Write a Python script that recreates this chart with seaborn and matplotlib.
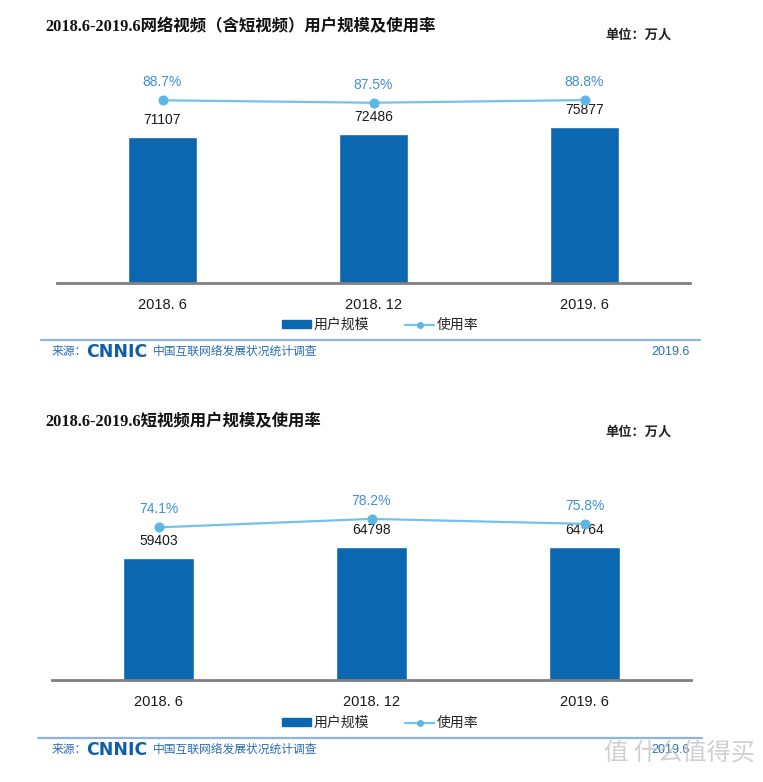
import matplotlib
matplotlib.use("Agg")
import matplotlib.pyplot as plt
import seaborn as sns
import pandas as pd
from matplotlib.patches import Patch
from matplotlib.lines import Line2D

# ---------------- data ----------------
periods = ["2018. 6", "2018. 12", "2019. 6"]
video_users = [71107, 72486, 75877]
video_rate = [88.7, 87.5, 88.8]
short_users = [59403, 64798, 64764]
short_rate = [74.1, 78.2, 75.8]

title_1 = "2018.6-2019.6网络视频（含短视频）用户规模及使用率"
title_2 = "2018.6-2019.6短视频用户规模及使用率"
unit_text = "单位：万人"
legend_bar = "用户规模"
legend_line = "使用率"
source_prefix = "来源："
source_logo = "CNNIC"
source_name = "中国互联网络发展状况统计调查"
source_date = "2019.6"
corner_mark = "值 什么值得买"

BAR = "#0B67B0"
LINE = "#72C2EC"
DOT = "#5DB6E6"
PCT = "#3F8FD4"
SRC = "#2A6DB5"
SEP = "#8DB4E2"

sns.set_theme(style="white")
SANS = ["Liberation Sans", "Noto Sans CJK SC", "DejaVu Sans"]
SERIF = ["Liberation Serif", "Noto Sans CJK SC", "DejaVu Sans"]
plt.rcParams["font.family"] = SANS

W, H = 763, 782
fig = plt.figure(figsize=(W / 100, H / 100), dpi=100)
fig.patch.set_facecolor("white")


def fx(px):
    return px / W


def fy(py):
    return 1 - py / H


def panel(left, right, base, users, rate, title, title_y, unit_y,
          leg_y, sep_y, sep_l, sep_r, src_y):
    ax = fig.add_axes([fx(left), fy(base), fx(right - left), 206 / H])
    ax.patch.set_alpha(0)
    df = pd.DataFrame({"period": periods, "users": users, "rate": rate})
    sns.barplot(data=df, x="period", y="users", color=BAR, width=0.33,
                saturation=1, ax=ax, zorder=2)
    ax.set_ylim(0, 100000)
    ax.set_xlim(-0.5, 2.5)
    for i, v in enumerate(users):
        ax.annotate(f"{v}", (i, v), xytext=(0, 7), textcoords="offset points",
                    ha="center", va="bottom", fontsize=10, color="#1a1a1a")
    ax.set_xlabel("")
    ax.set_ylabel("")
    ax.set_yticks([])
    for s in ["top", "left", "right"]:
        ax.spines[s].set_visible(False)
    ax.spines["bottom"].set_color("#7F7F7F")
    ax.spines["bottom"].set_linewidth(2)
    ax.tick_params(axis="x", length=0, pad=11, labelsize=10.5,
                   labelcolor="#1a1a1a")

    ax2 = ax.twinx()
    ax2.patch.set_alpha(0)
    sns.pointplot(data=df, x="period", y="rate", color=LINE, markers="o",
                  linestyles="-", ax=ax2, zorder=3,
                  markersize=6, linewidth=1.6)
    for ln in ax2.lines:
        ln.set_markerfacecolor(DOT)
        ln.set_markeredgecolor(DOT)
    ax2.set_ylim(0, 100)
    ax2.set_xlim(-0.5, 2.5)
    ax2.set_yticks([])
    ax2.set_xlabel("")
    ax2.set_ylabel("")
    for s in ax2.spines.values():
        s.set_visible(False)
    for i, v in enumerate(rate):
        ax2.annotate(f"{v}%", (i, v), xytext=(0, 8), textcoords="offset points",
                     ha="center", va="bottom", fontsize=10, color=PCT)

    fig.text(fx(45), fy(title_y), title, fontsize=11.8, fontweight="bold",
             family=SERIF, color="#111111", ha="left", va="center")
    fig.text(fx(672), fy(unit_y), unit_text, fontsize=9.5, fontweight="bold",
             color="#222222", ha="right", va="center")

    handles = [Patch(facecolor=BAR, edgecolor=BAR),
               Line2D([0], [0], color=LINE, lw=1.6, marker="o", markersize=4,
                      markerfacecolor=DOT, markeredgecolor=DOT)]
    fig.legend(handles, [legend_bar, legend_line], loc="center",
               bbox_to_anchor=(fx(380), fy(leg_y)), ncol=2, frameon=False,
               fontsize=10, handlelength=2.1, handleheight=0.45,
               columnspacing=2.6, handletextpad=0.15, borderpad=0)

    fig.add_artist(Line2D([fx(sep_l), fx(sep_r)], [fy(sep_y), fy(sep_y)],
                          color=SEP, lw=1.6))
    fig.text(fx(52), fy(src_y), source_prefix, fontsize=8.5, color=SRC,
             ha="left", va="center")
    fig.text(fx(86), fy(src_y), source_logo, fontsize=12.5, fontweight="bold",
             color="#0F5FA8", ha="left", va="center", family=["DejaVu Sans"])
    fig.text(fx(153), fy(src_y), source_name, fontsize=8.5, color=SRC,
             ha="left", va="center")
    fig.text(fx(690), fy(src_y), source_date, fontsize=9, color=SRC,
             ha="right", va="center")
    return ax


panel(57, 690, 283, video_users, video_rate, title_1, 27, 35,
      325, 340, 41, 700, 352)
panel(52, 691, 680, short_users, short_rate, title_2, 422, 432,
      723, 738, 38, 702, 750)

fig.text(fx(680), fy(753), corner_mark, fontsize=17.5, color="#C4C4C4",
         ha="center", va="center", alpha=0.8,
         family=["Noto Sans CJK SC", "DejaVu Sans"])

fig.savefig("out.png", dpi=100, facecolor="white")
